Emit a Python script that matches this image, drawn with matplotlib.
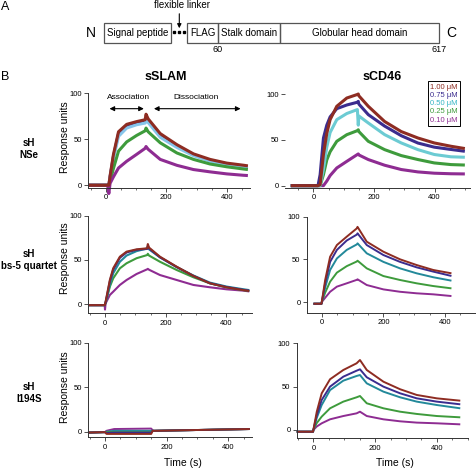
import numpy as np
import matplotlib
matplotlib.use("Agg")
import matplotlib.pyplot as plt
from matplotlib.patches import Rectangle
from matplotlib.ticker import MultipleLocator

plt.rcParams['font.family'] = ['Liberation Sans', 'DejaVu Sans']

W, H = 477, 469

# ---------------------------------------------------------------------------
# data (response units vs time)
# ---------------------------------------------------------------------------
conc_labels = ["1.00 \u03bcM", "0.75 \u03bcM", "0.50 \u03bcM", "0.25 \u03bcM", "0.10 \u03bcM"]

# sSLAM / sH NSe
t_tl = [-58, 6, 10, 14, 25, 42, 69, 102, 130, 133, 140, 180, 235, 290, 345, 400, 455, 470]
tl_100 = [0, 0, 0, 10, 33, 58, 66, 69, 71, 77, 72, 56, 44, 34, 28, 24, 21.7, 21]
tl_075 = [0, 0, 0, 9, 31, 56, 64.5, 68, 69.5, 72, 70, 54.5, 43, 33, 27, 23, 20.5, 20]
tl_050 = [0, 0, 0, 8, 29, 53, 62, 65.6, 67.4, 70, 68, 52, 41, 32, 26, 22, 19.5, 19]
tl_025 = [0, 0, 0, 4, 18, 37, 47, 54, 59, 62, 58, 46, 35, 28, 23, 20, 17.6, 17]
tl_010 = [0, 0, -9, 2, 9, 18.7, 26, 33.5, 40, 42, 39, 28, 21.6, 17, 14.5, 12.3, 10.8, 10.5]

# sCD46 / sH NSe
t_tr = [-75, 15, 22, 33, 44, 55, 77, 110, 145, 148, 150, 181, 235, 290, 345, 399, 454, 500]
tr_100 = [0, 0, 1, 34, 57, 72, 86.6, 95.6, 99.5, 100, 98, 86.6, 70, 59, 52, 46.6, 43, 40.5]
tr_075 = [0, 0, 12, 52, 66, 75, 84, 88, 91, 92, 89, 77.5, 65, 54.5, 46.5, 42, 39.5, 37.5]
tr_050 = [0, 0, 0, 18, 42, 58, 72, 78.7, 83, 66, 76, 68.4, 55.7, 46.6, 39.3, 34, 31.5, 31]
tr_025 = [0, 0, 0, 12, 28, 37, 48.4, 55.6, 60, 61, 59, 48.4, 39.3, 32.8, 28.5, 24.8, 23, 22.5]
tr_010 = [0, 0, 0, 0, 5, 11, 19.3, 26.5, 34, 34.6, 33.5, 28.5, 22.3, 17.6, 15, 13.6, 13, 12.8]

# sSLAM / sH bs-5 quartet
t_ml = [-55, -1, 0, 2, 16, 27, 49, 71, 104, 139, 141, 145, 181, 236, 291, 345, 400, 455, 475]
ml_100 = [-1, -1, 0, 3, 27.4, 40.6, 53.7, 59.4, 62, 63.2, 68, 64, 53.7, 42.4, 32, 23.7, 19.2, 16, 15]
ml_075 = [-1, -1, 0, 2, 26, 39, 52.5, 58.5, 61.5, 62.5, 66, 63, 53, 42, 32, 23.8, 19.4, 16.3, 15.4]
ml_050 = [-1, -1, 0, 2, 22, 35, 48, 55, 60, 63, 65, 62, 53, 42, 32.5, 24.5, 20, 17, 16]
ml_025 = [-1, -1, 0, 1.5, 19.9, 29.3, 40.6, 46.3, 52, 55.6, 57, 55, 48, 38.7, 30.5, 23.7, 19, 16, 15]
ml_010 = [-1, -1, -6, 1, 10.5, 14.2, 21.8, 27.4, 34.2, 39.5, 40, 39, 33, 27.4, 21.8, 19.2, 16.9, 15.4, 14.5]

# sCD46 / sH bs-5 quartet
t_mr = [-27, -1, 0, 11, 27, 49, 81, 114, 116, 146, 200, 254, 308, 362, 421]
mr_100 = [-2, -2, 0, 25.8, 53, 66.7, 76.5, 86.3, 88, 70.6, 58.9, 50, 43.3, 37.5, 33.6]
mr_075 = [-2, -2, 0, 22, 47, 61, 72, 79, 80.4, 66.7, 55, 47, 40.6, 35.6, 30.5]
mr_050 = [-2, -2, 0, 17, 37.5, 51, 61, 67.5, 68.7, 57, 47, 39.4, 33.6, 29, 25]
mr_025 = [-2, -2, 0, 11, 23.8, 34.4, 42, 47.5, 48.4, 39.4, 30.4, 25.8, 21.9, 18.7, 16]
mr_010 = [-2, -2, 0, 5, 12, 18, 21.9, 26, 26.6, 19.9, 14.8, 12, 10.2, 9, 7]

# sSLAM / sH I194S
t_bl = [-55, 0, 5, 30, 150, 155, 160, 470]
bl_100 = [-1, -0.5, -2.5, -2.5, -2.5, 1, 1, 3]
bl_075 = [-1, -0.5, -1.5, -1, -1, 1, 1, 3]
bl_050 = [-1, -0.5, 0, 1, 1, 1, 1, 3]
bl_025 = [-1, -0.5, -0.5, -0.5, -0.5, 1, 1, 3]
bl_010 = [-1, -0.5, 1, 3, 3.5, 1.5, 1, 3]

# sCD46 / sH I194S
t_br = [-54, -1, 0, 11, 27, 54, 97, 140, 151, 173, 227, 281, 335, 400, 476]
br_100 = [-2, -2, 0, 21, 42.3, 58.5, 69.2, 76.9, 80.7, 69.2, 55.7, 47, 40.4, 36.5, 33.8]
br_075 = [-2, -2, 0, 17, 34.6, 50, 61.5, 68.4, 70, 60.8, 50, 42.3, 36.5, 32.7, 29.6]
br_050 = [-2, -2, 0, 14, 28.8, 46, 56.9, 62.3, 63.4, 53.8, 44.2, 37.7, 32.7, 28.8, 25]
br_025 = [-2, -2, 0, 8, 15.4, 25, 32.7, 37.7, 39.2, 30.8, 25, 21.1, 18.5, 16.1, 14.6]
br_010 = [-2, -2, 0, 4, 7.7, 12.3, 16.1, 19.2, 21.1, 16.1, 12.3, 10, 8.5, 7.7, 6.5]

BROWN, INDIGO, GREEN, PURPLE = "#8e2c22", "#3b2c8e", "#3e9b3c", "#8e2c92"
CYAN, SKY, TEAL = "#6ccbd3", "#86c5ea", "#23899a"

fig = plt.figure(figsize=(W / 100, H / 100), dpi=100)


def px(x, y):
    return x / W, 1 - y / H


def add_ax(x0, y0, x1, y1, xlim, ylim):
    ax = fig.add_axes([x0 / W, 1 - y1 / H, (x1 - x0) / W, (y1 - y0) / H])
    ax.set_facecolor("none")
    ax.set_xlim(*xlim); ax.set_ylim(*ylim)
    for s in ("top", "right"):
        ax.spines[s].set_visible(False)
    for s in ("left", "bottom"):
        ax.spines[s].set_linewidth(0.7); ax.spines[s].set_color("#333333")
    ax.set_xticks([0, 200, 400]); ax.set_yticks([0, 50, 100])
    ax.xaxis.set_minor_locator(MultipleLocator(50))
    ax.tick_params(labelsize=5.5, length=3, width=0.6, pad=1.5, color="#333333")
    ax.tick_params(which="minor", length=1.2, width=0.4)
    return ax


def draw(ax, t, series, lw):
    hs = []
    for vals, col in series:
        h, = ax.plot(t, vals, color=col, lw=lw, solid_capstyle="butt", clip_on=False)
        hs.append(h)
    return hs


# ---------------------------------------------------------------------------
# panel A: construct schematic (pixel coordinates on an overlay)
# ---------------------------------------------------------------------------
ov = fig.add_axes([0, 0, 1, 1]); ov.set_xlim(0, W); ov.set_ylim(H, 0); ov.axis("off")
for name, a, b in [("Signal peptide", 104.3, 171), ("FLAG", 187.3, 218.3),
                   ("Stalk domain", 218.3, 280), ("Globular head domain", 280, 439.3)]:
    ov.add_patch(Rectangle((a, 23.3), b - a, 19.4, fill=False, ec="#555555", lw=0.9))
    ov.text((a + b) / 2, 33, name, ha="center", va="center", fontsize=7)
ov.plot([174, 179, 184], [32.5, 32.5, 32.5], "s", ms=1.8, color="black")
ov.annotate("", xy=(179.3, 31), xytext=(179.3, 11),
            arrowprops=dict(arrowstyle="-|>", lw=0.8, color="black", mutation_scale=6))
ov.text(182.5, 5, "flexible linker", ha="center", va="center", fontsize=7)
ov.text(91, 33, "N", ha="center", va="center", fontsize=10)
ov.text(451, 33, "C", ha="center", va="center", fontsize=10)
ov.text(218, 50, "60", ha="center", va="center", fontsize=6.5)
ov.text(439, 50, "617", ha="center", va="center", fontsize=6.5)
ov.text(1, 7, "A", ha="left", va="center", fontsize=9)
ov.text(1, 77, "B", ha="left", va="center", fontsize=9)
ov.text(166, 77, "sSLAM", ha="center", va="center", fontsize=9, fontweight="bold")
ov.text(382, 77, "sCD46", ha="center", va="center", fontsize=9, fontweight="bold")

for y, lab in [(149, "sH\nNSe"), (260, "sH\nbs-5 quartet"), (393, "sH\nI194S")]:
    ov.text(29, y, lab, ha="center", va="center", fontsize=7, fontweight="bold", linespacing=1.25)
for y in (137, 258, 387):
    ov.text(65.5, y, "Response units", ha="center", va="center", rotation=90, fontsize=7.5)
ov.text(183, 463, "Time (s)", ha="center", va="center", fontsize=7.5)
ov.text(395, 463, "Time (s)", ha="center", va="center", fontsize=7.5)

# ---------------------------------------------------------------------------
# panel B: sensorgrams
# ---------------------------------------------------------------------------
ax = add_ax(88.3, 93, 250, 188, (-58, 477), (-3, 100))
draw(ax, t_tl, [(tl_075, INDIGO), (tl_050, SKY), (tl_025, GREEN), (tl_010, PURPLE), (tl_100, BROWN)], 2.2)
ax.annotate("", xy=(3, 83), xytext=(135, 83),
            arrowprops=dict(arrowstyle="<|-|>", lw=0.8, color="black", mutation_scale=7))
ax.annotate("", xy=(150, 83), xytext=(455, 83),
            arrowprops=dict(arrowstyle="<|-|>", lw=0.8, color="black", mutation_scale=7))
ax.text(75, 95, "Association", ha="center", va="center", fontsize=6)
ax.text(300, 95, "Dissociation", ha="center", va="center", fontsize=6)

ax = add_ax(285, 94, 470, 187.5, (-94, 517), (-2, 100))
ax.spines["left"].set_visible(False)
hs = draw(ax, t_tr, [(tr_010, PURPLE), (tr_025, GREEN), (tr_050, CYAN), (tr_075, INDIGO), (tr_100, BROWN)], 2.2)
leg = ax.legend(hs[::-1], conc_labels, loc="upper right", bbox_to_anchor=px(460, 81.5),
                bbox_transform=fig.transFigure, handlelength=0, handletextpad=0,
                labelcolor=[BROWN, INDIGO, "#35b5c4", GREEN, PURPLE], fontsize=5.5,
                frameon=True, fancybox=False, edgecolor="black", framealpha=1,
                borderpad=0.3, labelspacing=0.1, borderaxespad=0)
leg.get_frame().set_linewidth(0.7)

ax = add_ax(88.3, 215.7, 252, 313.3, (-55, 484), (-10.2, 100))
draw(ax, t_ml, [(ml_010, PURPLE), (ml_025, GREEN), (ml_050, TEAL), (ml_075, INDIGO), (ml_100, BROWN)], 1.5)

ax = add_ax(306.7, 216.6, 476.7, 312.7, (-49, 503), (-12.5, 100))
draw(ax, t_mr, [(mr_010, PURPLE), (mr_025, GREEN), (mr_050, TEAL), (mr_075, INDIGO), (mr_100, BROWN)], 1.4)

ax = add_ax(88.3, 342.7, 251.7, 437.3, (-54, 476), (-6.3, 100))
draw(ax, t_bl, [(bl_010, PURPLE), (bl_050, TEAL), (bl_025, GREEN), (bl_075, INDIGO), (bl_100, BROWN)], 1.4)

ax = add_ax(296.7, 343.3, 468.3, 438.3, (-54, 502), (-9.6, 100))
draw(ax, t_br, [(br_010, PURPLE), (br_025, GREEN), (br_050, TEAL), (br_075, INDIGO), (br_100, BROWN)], 1.4)

fig.savefig("out.png", dpi=100)
